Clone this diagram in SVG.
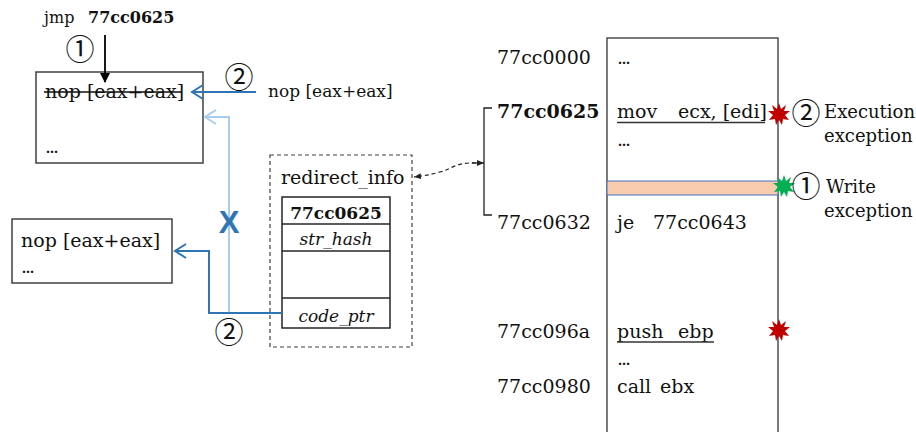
<svg xmlns="http://www.w3.org/2000/svg" width="916" height="432" viewBox="0 0 916 432">
  <style>
    text { font-family: "DejaVu Serif", "Liberation Serif", serif; fill: #111; }
    .t19 { font-size: 19px; }
    .t18 { font-size: 18px; }
    .t17 { font-size: 17px; }
    .t16 { font-size: 16px; }
    .b { font-weight: bold; }
    .it { font-style: italic; }
    .num { font-family: "Noto Sans CJK SC", "DejaVu Sans", sans-serif; font-size: 29px; text-anchor: middle; }
    .cross { font-family: "Liberation Sans", Arial, sans-serif; font-weight: bold; font-size: 31px; fill: #2e75b6; text-anchor: middle; }
    .dots { letter-spacing: -2px; }
    .box { fill: #fff; stroke: #404040; stroke-width: 1.5; }
    .cell { fill: #fff; stroke: #262626; stroke-width: 1.5; }
    .dash { fill: none; stroke: #404040; stroke-width: 1.2; stroke-dasharray: 4 3; }
    .blue { fill: none; stroke: #2e75b6; stroke-width: 2; }
    .lblue { fill: none; stroke: #a9cdee; stroke-width: 2; }
    .uline { stroke: #333; stroke-width: 1.3; }
  </style>
  <defs>
    <marker id="headBlack" markerWidth="10" markerHeight="10" refX="9" refY="5" orient="auto" markerUnits="userSpaceOnUse">
      <path d="M0,0 L10,5 L0,10 Z" fill="#000"/>
    </marker>
    <marker id="openBlue" markerWidth="14" markerHeight="16" refX="12" refY="8" orient="auto" markerUnits="userSpaceOnUse">
      <path d="M1,1 L12,8 L1,15" fill="none" stroke="#2e75b6" stroke-width="2"/>
    </marker>
    <marker id="openLBlue" markerWidth="14" markerHeight="16" refX="12" refY="8" orient="auto" markerUnits="userSpaceOnUse">
      <path d="M1,1 L12,8 L1,15" fill="none" stroke="#a9cdee" stroke-width="2"/>
    </marker>
    <marker id="smallHead" markerWidth="8" markerHeight="8" refX="7" refY="4" orient="auto" markerUnits="userSpaceOnUse">
      <path d="M0,1 L7,4 L0,7 Z" fill="#222"/>
    </marker>
    <polygon id="burst" points="0,-11 2,-5 7,-9 5,-3 11,-3 6,1 10,6 4,5 3,11 0,6 -3,11 -4,5 -10,6 -6,1 -11,-3 -5,-3 -7,-9 -2,-5"/>
  </defs>

  <!-- jump entry -->
  <g id="jmp-label">
    <text class="t16" x="44" y="23">jmp</text>
    <text class="t16 b" x="88" y="23">77cc0625</text>
    <text class="num" x="80" y="60">①</text>
  </g>

  <!-- patched block -->
  <g id="patched-block">
    <rect class="box" x="36" y="72" width="167" height="91"/>
    <text class="t19" x="45" y="98">nop [eax+eax]</text>
    <line x1="44" y1="92" x2="182" y2="92" stroke="#111" stroke-width="1.3"/>
    <text class="t19 dots" x="45" y="153">...</text>
  </g>

  <g id="restored-instr">
    <text class="num" x="239" y="88">②</text>
    <text class="t17" x="268" y="97">nop [eax+eax]</text>
  </g>

  <!-- relocated block -->
  <g id="relocated-block">
    <rect class="box" x="12" y="219" width="160" height="64"/>
    <text class="t19" x="21" y="247">nop [eax+eax]</text>
    <text class="t19 dots" x="21" y="273">...</text>
  </g>

  <!-- redirect_info record -->
  <g id="redirect-info">
    <rect class="dash" x="270" y="155" width="142" height="192"/>
    <text class="t19" x="281" y="184">redirect_info</text>
    <rect class="cell" x="282" y="197" width="108" height="131"/>
    <line class="cell" x1="282" y1="224" x2="390" y2="224"/>
    <line class="cell" x1="282" y1="251" x2="390" y2="251"/>
    <line class="cell" x1="282" y1="298" x2="390" y2="298"/>
    <text class="t17 b" x="336" y="219" text-anchor="middle">77cc0625</text>
    <text class="t17 it" x="336" y="245" text-anchor="middle">str_hash</text>
    <text class="t17 it" x="336" y="322" text-anchor="middle">code_ptr</text>
  </g>

  <!-- address column -->
  <g id="addresses">
    <text class="t19" x="497" y="64">77cc0000</text>
    <text class="t19 b" x="497" y="118">77cc0625</text>
    <text class="t19" x="497" y="229">77cc0632</text>
    <text class="t19" x="497" y="338">77cc096a</text>
    <text class="t19" x="497" y="393">77cc0980</text>
    <path d="M492,108 L484,108 L484,215 L492,215" fill="none" stroke="#222" stroke-width="1.3"/>
  </g>

  <!-- memory page -->
  <g id="memory">
    <rect x="607" y="38" width="171" height="410" fill="#fff" stroke="#333" stroke-width="1.3"/>
    <rect x="607" y="181" width="171" height="14" fill="#f8cbad" stroke="#4472c4" stroke-width="1"/>
    <text class="t19 dots" x="617" y="64">...</text>
    <text class="t19" x="617" y="118">mov</text>
    <text class="t19" x="678" y="118">ecx, [edi]</text>
    <line class="uline" x1="617" y1="122.5" x2="765" y2="122.5"/>
    <text class="t19 dots" x="617" y="146">...</text>
    <text class="t19" x="617" y="229">je</text>
    <text class="t19" x="653" y="229">77cc0643</text>
    <text class="t19" x="617" y="338">push</text>
    <text class="t19" x="678" y="338">ebp</text>
    <line class="uline" x1="617" y1="342" x2="714" y2="342"/>
    <text class="t19 dots" x="617" y="365">...</text>
    <text class="t19" x="617" y="393">call</text>
    <text class="t19" x="660" y="393">ebx</text>
  </g>

  <!-- exception markers -->
  <g id="exec-exception">
    <use href="#burst" x="779" y="114" fill="#c00000"/>
    <text class="num" x="806" y="124">②</text>
    <text class="t18" x="824" y="118">Execution</text>
    <text class="t18" x="824" y="142">exception</text>
  </g>
  <g id="write-exception">
    <use href="#burst" x="784" y="186" fill="#00b050"/>
    <text class="num" x="806" y="197">①</text>
    <text class="t18" x="826" y="193">Write</text>
    <text class="t18" x="824" y="217">exception</text>
  </g>
  <g id="push-exception">
    <use href="#burst" x="779" y="330" fill="#c00000"/>
  </g>

  <!-- connectors -->
  <g id="connectors">
    <line x1="105" y1="35" x2="105" y2="82" stroke="#000" stroke-width="1.8" marker-end="url(#headBlack)"/>
    <line class="blue" x1="256" y1="92" x2="192" y2="92" marker-end="url(#openBlue)"/>
    <path class="lblue" d="M229,313 L229,117 L205,117" marker-end="url(#openLBlue)"/>
    <path class="blue" d="M282,313 L209,313 L209,251 L175,251" marker-end="url(#openBlue)"/>
    <path d="M476,163 C455,162 450,170 440,172 C430,175 422,176 414,177" fill="none" stroke="#222" stroke-width="1.2" stroke-dasharray="4 3" marker-end="url(#smallHead)"/>
    <line x1="472" y1="163" x2="484" y2="163" stroke="#222" stroke-width="1.2" marker-end="url(#smallHead)"/>
    <text class="cross" x="229" y="233">X</text>
    <text class="num" x="229" y="343">②</text>
  </g>
</svg>
